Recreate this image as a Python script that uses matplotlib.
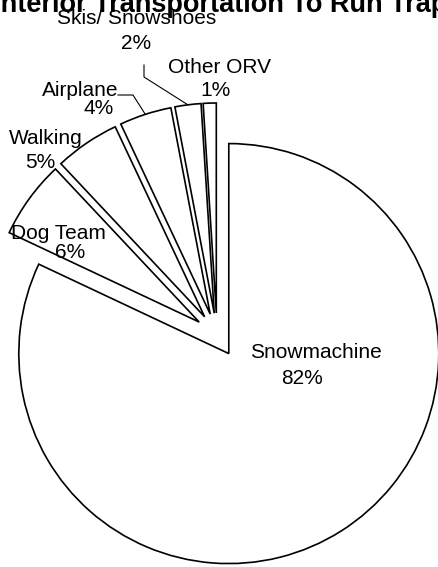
import numpy as np
import matplotlib
matplotlib.use('Agg')
import matplotlib.pyplot as plt

plt.rcParams['font.family'] = ['Liberation Sans', 'DejaVu Sans']

# ===== 数据 =====
modes = ['Snowmachine', 'Dog Team', 'Walking', 'Airplane', 'Skis/ Snowshoes', 'Other ORV']
shares = [82, 6, 5, 4, 2, 1]
title = 'Interior Transportation To Run Traplines'

W, H = 439, 567
fig = plt.figure(figsize=(W / 100, H / 100), dpi=100)
ax = fig.add_axes([0, 0, 1, 1])

# pixel-like coordinates, y up
cx, cy, R = 217, H - 335, 210
wedges, _ = ax.pie(shares, startangle=90, counterclock=False,
                   explode=[22] * len(shares), radius=R, center=(cx, cy),
                   wedgeprops=dict(facecolor='white', edgecolor='black', linewidth=1.2))

ax.set_xlim(0, W)
ax.set_ylim(0, H)
ax.set_aspect('equal')
ax.axis('off')

# label positions (name line, pct line), screen px from top
label_pos = {
    'Snowmachine': ((316, 353), (302, 378)),
    'Dog Team': ((58, 233), (70, 252)),
    'Walking': ((46, 138), (40, 162)),
    'Airplane': ((80, 90), (99, 108)),
    'Skis/ Snowshoes': ((137, 18), (136, 43)),
    'Other ORV': ((220, 67), (216, 90)),
}
for name, v in zip(modes, shares):
    (x1, y1), (x2, y2) = label_pos[name]
    ax.text(x1, H - y1, name, ha='center', va='center', fontsize=15)
    ax.text(x2, H - y2, f"{v}%", ha='center', va='center', fontsize=15)

# leader lines from wedge arc midpoint
elbows = {
    'Airplane': [(133, 95), (118, 95)],
    'Skis/ Snowshoes': [(144, 77), (144, 65)],
}
for w, name in zip(wedges, modes):
    if name not in elbows:
        continue
    mid = np.deg2rad((w.theta1 + w.theta2) / 2)
    px = w.center[0] + w.r * np.cos(mid)
    py = w.center[1] + w.r * np.sin(mid)
    xs = [px] + [e[0] for e in elbows[name]]
    ys = [py] + [H - e[1] for e in elbows[name]]
    ax.plot(xs, ys, color='black', linewidth=0.8)

ax.text(-7, H - 12, title, ha='left', va='baseline', fontsize=19.5, fontweight='bold')

plt.savefig('out.png', dpi=100)
